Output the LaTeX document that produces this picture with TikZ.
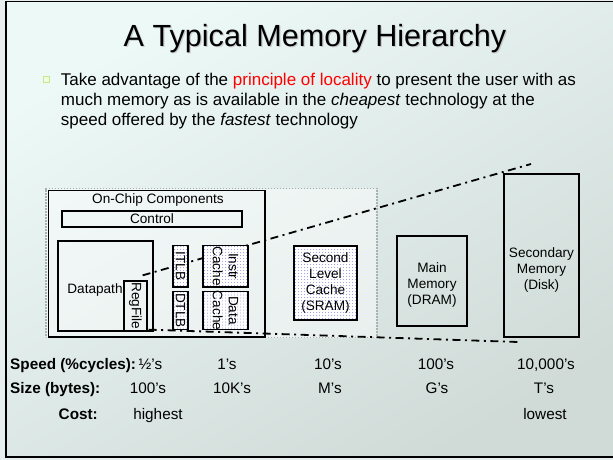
\documentclass[tikz,border=0pt]{standalone}
\usepackage{fontspec}
\setmainfont{Liberation Sans}

\definecolor{bgA}{HTML}{EDF9F7}
\definecolor{bgB}{HTML}{D0DBD8}
\definecolor{pagebg}{HTML}{E6EFEE}
\definecolor{dotblue}{HTML}{9090E4}
\definecolor{regionline}{HTML}{A9B1B0}
\definecolor{bulletfill}{HTML}{F0FAE0}
\definecolor{bulletline}{HTML}{C4E88A}

\newcommand{\headsize}{\fontsize{30.6}{36}\selectfont}
\newcommand{\bodysize}{\fontsize{17}{20}\selectfont}
\newcommand{\diagsize}{\fontsize{13.6}{16}\selectfont}
\newcommand{\tabsize}{\fontsize{15.3}{18}\selectfont}

\begin{document}
\begin{tikzpicture}[x=1pt,y=-1pt,
  plainbox/.style={draw=black, line width=1.3pt, inner sep=0pt, rectangle},
  % white box stippled with small blue dots (#1 columns, #2 rows)
  patbox/.style 2 args={plainbox, fill=white,
    path picture={
      \foreach \i in {0,...,#1} \foreach \j in {0,...,#2}
        \fill[dotblue] ([shift={(\i*3pt+1.5pt,\j*3pt+1.5pt)}]path picture bounding box.south west) circle (0.5pt);
    }},
  dtext/.style={font=\diagsize, inner sep=0pt, align=center},
  vtext/.style={dtext, rotate=-90},
  ttext/.style={font=\tabsize, inner sep=0pt, anchor=base},
  tlabel/.style={font=\tabsize\bfseries, inner sep=0pt},
  btext/.style={font=\bodysize, inner sep=0pt, anchor=base west},
  dashdot/.style={line width=1.8pt, line cap=butt,
    dash pattern=on 8pt off 4.5pt on 2pt off 4.5pt}
]
\useasboundingbox (0,0) rectangle (613,460);

% slide background and frame
\fill[pagebg] (0,0) rectangle (613,460);
\shade[top color=bgA, bottom color=bgB, shading angle=30] (6,1.5) rectangle (625,457);
\draw[line width=1.7pt] (625,1.5) -- (6,1.5) -- (6,457) -- (625,457);

% title with soft shadow
\node[font=\headsize, inner sep=0pt, anchor=base, text=black!30, opacity=0.6] (titleshadow) at (316.2,47.7) {A Typical Memory Hierarchy};
\node[font=\headsize, inner sep=0pt, anchor=base] (title) at (315,46.5) {A Typical Memory Hierarchy};

% bullet
\node[draw=bulletline, fill=bulletfill, line width=1.3pt, minimum size=6pt, inner sep=0pt] (bullet) at (46.5,79.5) {};
\node[btext] (b1) at (60.7,85) {Take advantage of the \textcolor{red}{principle of locality} to present the user with as};
\node[btext] (b2) at (60.7,105) {much memory as is available in the \textit{cheapest} technology at the};
\node[btext] (b3) at (60.7,125) {speed offered by the \textit{fastest} technology};

% level-2 region and on-chip box
\node[draw=regionline, line width=1.2pt, dash pattern=on 1.2pt off 1.8pt,
      fill=white, fill opacity=0.45, minimum width=331pt, minimum height=149pt, inner sep=0pt]
      (region) at (211.5,263) {};
\node[plainbox, minimum width=216.5pt, minimum height=146.5pt] (onchip) at (156.75,263.75) {};
\node[dtext, anchor=base] (onchiplabel) at (158,203) {On-Chip Components};

\node[plainbox, minimum width=180pt, minimum height=16pt, font=\diagsize] (control) at (152,219) {Control};

\node[plainbox, minimum width=95pt, minimum height=90pt] (datapath) at (105.5,286) {};
\node[dtext, anchor=base] (dplabel) at (95,293.5) {Datapath};

\node[plainbox, minimum width=23pt, minimum height=50pt] (regfile) at (135.5,306) {};
\node[vtext] (rflabel) at (regfile) {RegFile};

% perspective lines
\coordinate (upstart) at ([shift={(-5,-5)}]regfile.north east);
\coordinate (lostart) at ([shift={(1,-2)}]regfile.south east);
\coordinate (upend) at (531,164);
\coordinate (loend) at (518,342);
\draw[dashdot] (upstart) -- (upend);
\draw[dashdot] (lostart) -- (loend);

% TLBs and first-level caches
\node[patbox={5}{14}, minimum width=15pt, minimum height=41.5pt] (itlb) at (180.5,266.25) {};
\node[vtext] (itlblabel) at (itlb) {ITLB};
\node[patbox={5}{13}, minimum width=15pt, minimum height=38pt] (dtlb) at (180.5,310.5) {};
\node[vtext] (dtlblabel) at (dtlb) {DTLB};
\node[patbox={15}{14}, minimum width=45pt, minimum height=41.5pt] (icache) at (225.5,266.25) {};
\node[vtext] (icachelabel) at (icache) {Instr\\Cache};
\node[patbox={15}{13}, minimum width=45pt, minimum height=38pt] (dcache) at (225.5,310.5) {};
\node[vtext] (dcachelabel) at (dcache) {Data\\Cache};

% lower levels
\node[patbox={21}{25}, line width=1.8pt, minimum width=63pt, minimum height=74pt] (l2) at (325.5,283) {};
\node[dtext] (l2label) at (l2) {Second\\Level\\Cache\\(SRAM)};

\node[plainbox, minimum width=70pt, minimum height=90pt] (mainmem) at (432,281) {};
\node[dtext] (mmlabel) at (432,285) {Main\\Memory\\(DRAM)};

\node[plainbox, line width=1.6pt, minimum width=75pt, minimum height=163pt] (disk) at (541.5,255.5) {};
\node[dtext] (disklabel) at (541.5,270) {Secondary\\Memory\\(Disk)};

% table of figures
\node[tlabel, anchor=base west] (speedlbl) at (10,369) {Speed (\%cycles):};
\node[ttext, anchor=base west] (s0) at (138.5,369) {½’s};
\node[ttext] (s1) at (227,369) {1’s};
\node[ttext] (s2) at (328,369) {10’s};
\node[ttext] (s3) at (436,369) {100’s};
\node[ttext] (s4) at (546,369) {10,000’s};

\node[tlabel, anchor=base west] (sizelbl) at (10,393.5) {Size (bytes):};
\node[ttext] (z0) at (148,393.5) {100’s};
\node[ttext] (z1) at (232,393.5) {10K’s};
\node[ttext] (z2) at (330,393.5) {M’s};
\node[ttext] (z3) at (437,393.5) {G’s};
\node[ttext] (z4) at (544,393.5) {T’s};

\node[tlabel, anchor=base east] (costlbl) at (98,419) {Cost:};
\node[ttext] (c0) at (158,419) {highest};
\node[ttext] (c4) at (545,419) {lowest};
\end{tikzpicture}
\end{document}
